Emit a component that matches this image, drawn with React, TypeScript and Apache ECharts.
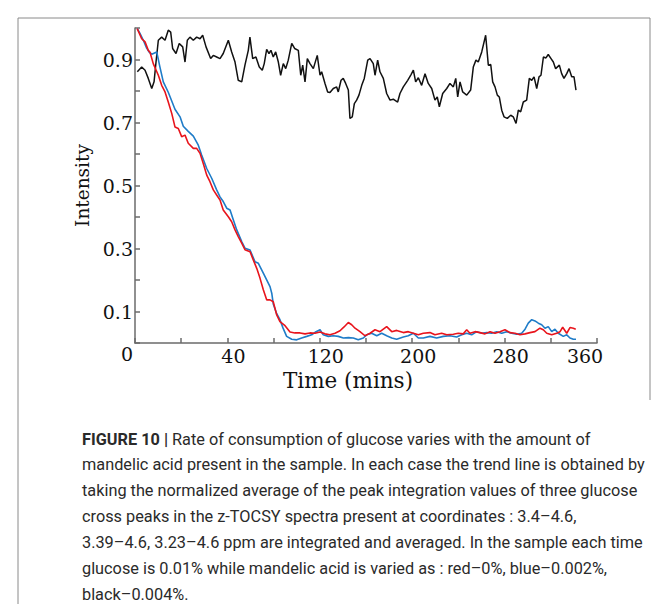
import React, { useEffect, useRef } from 'react';
import * as echarts from 'echarts';

// Time positions (axis units as printed: 40, 120, 200, 280, 360)
const blackX = [-38.0,-34.2,-31.3,-28.5,-25.5,-23.5,-21.8,-19.8,-16.9,-14.0,-11.2,-9.1,-7.4,-4.5,-1.7,1.3,3.3,5.3,7.6,10.5,13.4,16.3,18.6,21.5,25.5,27.8,30.7,33.6,36.4,40.8,43.7,46.6,49.4,52.4,55.2,58.1,59.5,61.9,64.7,67.6,70.2,71.9,74.0,76.0,77.7,79.7,81.8,84.1,86.1,88.4,90.5,92.7,95.7,98.2,101.4,103.5,105.2,107.2,109.2,111.5,114.4,117.8,120.2,121.6,124.5,126.8,128.8,131.7,134.6,136.0,138.4,140.3,142.4,144.7,146.1,148.1,149.9,151.9,153.9,156.3,158.5,161.5,163.5,166.3,167.8,170.1,172.1,175.0,177.9,180.8,183.6,187.4,189.4,192.3,196.1,199.0,201.0,203.0,205.3,208.2,211.1,213.9,216.9,219.7,221.7,223.5,226.4,229.9,232.7,235.6,237.7,239.4,241.4,243.7,247.2,250.6,252.9,255.2,257.2,260.2,263.6,265.9,268.0,269.7,271.7,273.7,275.4,277.5,279.5,282.3,285.3,287.5,289.9,291.9,293.9,296.2,299.1,301.4,303.5,305.5,307.8,309.8,311.5,313.6,315.8,317.8,320.2,322.2,324.2,327.4,329.4,331.4,333.8,335.8,338.1,340.1,341.8];
const blackY = [0.861,0.876,0.866,0.840,0.808,0.829,0.892,0.961,0.971,0.961,0.993,0.987,0.935,0.919,0.951,0.940,0.892,0.961,0.971,0.961,0.971,0.966,0.977,0.940,0.903,0.913,0.908,0.903,0.919,0.961,0.924,0.892,0.834,0.829,0.882,0.929,0.971,0.903,0.908,0.876,0.866,0.887,0.932,0.919,0.929,0.908,0.924,0.892,0.850,0.887,0.871,0.898,0.951,0.935,0.929,0.850,0.882,0.829,0.903,0.887,0.871,0.913,0.850,0.861,0.824,0.797,0.795,0.808,0.813,0.797,0.834,0.840,0.824,0.803,0.713,0.718,0.760,0.771,0.787,0.818,0.840,0.898,0.903,0.887,0.850,0.898,0.861,0.840,0.792,0.771,0.774,0.765,0.792,0.813,0.834,0.852,0.866,0.829,0.842,0.818,0.855,0.824,0.808,0.771,0.781,0.750,0.792,0.808,0.824,0.813,0.840,0.781,0.829,0.797,0.787,0.803,0.876,0.898,0.892,0.924,0.977,0.882,0.884,0.829,0.813,0.787,0.781,0.739,0.718,0.713,0.723,0.718,0.697,0.739,0.734,0.765,0.771,0.840,0.834,0.845,0.808,0.845,0.850,0.908,0.905,0.916,0.903,0.892,0.871,0.882,0.855,0.840,0.855,0.871,0.845,0.845,0.803];

const redX = [-38.1,-34.2,-31.3,-28.5,-27.0,-24.2,-19.8,-16.9,-14.0,-11.2,-8.2,-5.4,-2.5,0.4,3.3,6.1,10.5,13.4,16.3,19.1,22.1,24.9,27.8,30.7,33.6,36.4,40.8,43.7,46.6,49.4,52.4,55.2,59.6,62.4,65.4,68.2,71.1,74.0,76.9,79.7,82.7,85.5,89.9,94.2,98.5,102.9,107.2,111.5,115.8,120.2,124.5,128.8,133.2,137.5,141.0,144.7,147.6,150.5,154.8,159.1,163.5,167.8,172.1,177.9,182.3,186.6,192.3,196.6,201.0,205.3,209.6,215.4,219.7,225.5,229.9,235.6,239.9,244.2,247.2,250.0,254.4,258.7,263.0,267.4,271.7,276.0,280.3,284.7,289.0,293.3,297.7,302.0,306.3,310.6,313.5,316.5,320.8,325.1,328.0,330.3,333.8,336.6,339.5,341.6];
const redY = [0.998,0.966,0.956,0.929,0.923,0.887,0.850,0.818,0.797,0.765,0.729,0.686,0.681,0.655,0.660,0.634,0.618,0.618,0.602,0.570,0.533,0.512,0.486,0.470,0.454,0.422,0.401,0.385,0.359,0.338,0.317,0.296,0.290,0.264,0.237,0.206,0.169,0.137,0.137,0.131,0.089,0.068,0.055,0.035,0.032,0.032,0.029,0.032,0.031,0.035,0.029,0.026,0.031,0.039,0.051,0.065,0.058,0.047,0.036,0.023,0.031,0.042,0.036,0.052,0.036,0.040,0.033,0.036,0.031,0.026,0.031,0.033,0.026,0.031,0.026,0.028,0.031,0.029,0.042,0.031,0.036,0.033,0.029,0.036,0.031,0.036,0.042,0.033,0.031,0.026,0.029,0.033,0.036,0.047,0.042,0.031,0.026,0.031,0.036,0.050,0.031,0.049,0.047,0.044];

const blueX = [-38.0,-35.7,-32.8,-29.9,-27.6,-25.5,-21.2,-18.4,-15.5,-11.2,-8.2,-5.4,-1.0,1.8,6.1,10.5,14.8,17.7,22.1,26.4,30.7,33.6,36.4,39.4,42.3,45.1,48.1,52.4,55.2,59.6,63.9,66.8,71.1,76.9,78.4,79.7,82.7,85.5,88.1,91.3,95.7,100.0,104.3,108.7,113.0,116.7,120.2,123.0,127.4,131.7,136.0,140.4,144.7,149.0,153.3,157.7,160.6,164.9,169.3,173.6,177.9,182.3,186.6,192.3,196.6,201.0,205.3,209.6,215.4,221.2,226.9,232.7,238.5,242.9,247.2,251.5,255.8,260.2,264.5,268.8,273.2,277.5,281.8,286.1,290.5,294.8,297.7,300.5,303.5,306.3,309.2,312.1,315.0,317.8,320.8,323.6,326.5,330.8,333.8,336.6,339.5,341.8];
const blueY = [0.998,0.983,0.961,0.936,0.923,0.917,0.924,0.876,0.829,0.796,0.768,0.742,0.718,0.688,0.672,0.657,0.628,0.597,0.554,0.523,0.486,0.464,0.449,0.428,0.422,0.391,0.359,0.322,0.301,0.295,0.258,0.253,0.222,0.179,0.158,0.124,0.093,0.074,0.048,0.021,0.012,0.010,0.016,0.021,0.026,0.036,0.042,0.026,0.021,0.023,0.021,0.016,0.017,0.016,0.010,0.016,0.026,0.031,0.023,0.031,0.023,0.016,0.012,0.019,0.023,0.031,0.016,0.016,0.021,0.016,0.021,0.023,0.019,0.026,0.031,0.026,0.036,0.031,0.033,0.031,0.036,0.031,0.036,0.031,0.028,0.031,0.044,0.063,0.074,0.070,0.063,0.058,0.047,0.052,0.036,0.044,0.031,0.021,0.026,0.016,0.012,0.012];

const xTickLabels = [40, 120, 200, 280, 360];
const yTickLabels = [0.1, 0.3, 0.5, 0.7, 0.9];

const captionLines = [
  '{b|FIGURE 10 |} Rate of consumption of glucose varies with the amount of',
  'mandelic acid present in the sample. In each case the trend line is obtained by',
  'taking the normalized average of the peak integration values of three glucose',
  'cross peaks in the z-TOCSY spectra present at coordinates : 3.4–4.6,',
  '3.39–4.6, 3.23–4.6 ppm are integrated and averaged. In the sample each time',
  'glucose is 0.01% while mandelic acid is varied as : red–0%, blue–0.002%,',
  'black–0.004%.',
];

const SERIF = '"DejaVu Serif", serif';
const SANS = 'Roboto, "Liberation Sans", sans-serif';

export default function App() {
  const ref = useRef<HTMLDivElement>(null);
  useEffect(() => {
    const chart = echarts.init(ref.current as HTMLDivElement, null, { renderer: 'svg' });
    const zip = (xs: number[], ys: number[]) => xs.map((x, i) => [x, ys[i]]);
    const axisGray = '#6b6b6b';
    const lastX = xTickLabels[xTickLabels.length - 1];
    const graphics: any[] = [
      { type: 'line', shape: { x1: 18, y1: 18, x2: 650, y2: 18 }, style: { stroke: '#8a8a8a', lineWidth: 1 } },
      { type: 'line', shape: { x1: 18, y1: 18, x2: 18, y2: 604 }, style: { stroke: '#8a8a8a', lineWidth: 1 } },
      { type: 'line', shape: { x1: 650, y1: 18, x2: 650, y2: 400 }, style: { stroke: '#8a8a8a', lineWidth: 1 } },
    ];
    captionLines.forEach((t, i) => {
      graphics.push({
        type: 'text',
        x: 82,
        y: 439 + i * 25.9,
        style: {
          text: t,
          font: `16.3px ${SANS}`,
          fill: '#2a2a2a',
          verticalAlign: 'middle',
          rich: { b: { fontWeight: 'bold', fontSize: 16.3, fontFamily: SANS, fill: '#2a2a2a' } },
        },
      });
    });
    chart.setOption({
      animation: false,
      backgroundColor: '#ffffff',
      grid: { left: 135, right: 70, top: 28, bottom: 261, containLabel: false },
      xAxis: {
        type: 'value',
        min: -40,
        max: 360,
        interval: 40,
        name: 'Time (mins)',
        nameLocation: 'middle',
        nameGap: 23,
        nameTextStyle: { fontFamily: SERIF, fontSize: 21.5, color: '#111', padding: [0, 36, 0, 0] },
        axisLine: { onZero: false, lineStyle: { color: axisGray, width: 1.5 } },
        axisTick: { inside: true, length: 5, lineStyle: { color: axisGray, width: 1.5 } },
        axisLabel: {
          margin: 3,
          fontFamily: SERIF,
          fontSize: 19,
          color: '#111',
          padding: [0, 0, 0, 12],
          formatter: (v: number) => {
            const r = Math.round(v);
            if (!xTickLabels.includes(r)) return '';
            return r === lastX ? `{e|${r}}` : String(r);
          },
          rich: { e: { fontFamily: SERIF, fontSize: 19, color: '#111', padding: [0, 36, 0, 0] } },
        },
        splitLine: { show: false },
      },
      yAxis: {
        type: 'value',
        min: 0,
        max: 1,
        interval: 0.1,
        name: 'Intensity',
        nameLocation: 'middle',
        nameGap: 39,
        nameTextStyle: { fontFamily: SERIF, fontSize: 18.5, color: '#111' },
        axisLine: { show: true, onZero: false, lineStyle: { color: axisGray, width: 1.5 } },
        axisTick: { show: true, inside: true, length: 5, lineStyle: { color: axisGray, width: 1.5 } },
        axisLabel: {
          margin: 2,
          fontFamily: SERIF,
          fontSize: 19,
          color: '#111',
          formatter: (v: number) => {
            const r = Math.round(v * 10) / 10;
            if (r === 0) return '{z|0}';
            return yTickLabels.includes(r) ? r.toFixed(1) : '';
          },
          rich: { z: { fontFamily: SERIF, fontSize: 19, color: '#111', padding: [22, 0, 0, 0] } },
        },
        splitLine: { show: false },
      },
      series: [
        { name: 'black', type: 'line', data: zip(blackX, blackY), showSymbol: false, lineStyle: { color: '#111111', width: 1.5 }, itemStyle: { color: '#111111' } },
        { name: 'blue', type: 'line', data: zip(blueX, blueY), showSymbol: false, lineStyle: { color: '#1f7cc8', width: 1.6 }, itemStyle: { color: '#1f7cc8' } },
        { name: 'red', type: 'line', data: zip(redX, redY), showSymbol: false, lineStyle: { color: '#e8141c', width: 1.6 }, itemStyle: { color: '#e8141c' } },
      ],
      graphic: graphics,
    });
    return () => chart.dispose();
  }, []);
  return (
    <div
      ref={ref}
      style={{ position: 'fixed', left: 0, top: 0, width: 667, height: 604, background: '#fff' }}
    />
  );
}
